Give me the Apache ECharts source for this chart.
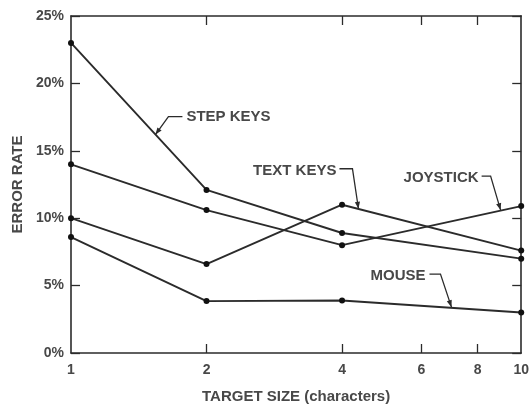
<!DOCTYPE html>
<html>
<head>
<meta charset="utf-8">
<style>
  html, body { margin: 0; padding: 0; background: #fff; }
  #chart { width: 532px; height: 409px; }
</style>
<script src="https://cdn.jsdelivr.net/npm/echarts@6/dist/echarts.min.js"></script>
</head>
<body>
<div id="chart"></div>
<script>
// target size (characters), log scale
var sizes = [1, 2, 4, 10];
var xTickValues = [2, 4, 6, 8];
var xLabelValues = [1, 2, 4, 6, 8, 10];

// error rate (%)
var stepKeys = [23, 12.1, 8.9, 7.0];
var textKeys = [10, 6.6, 11.0, 7.6];
var joystick = [14, 10.6, 8.0, 10.9];
var mouse    = [8.6, 3.85, 3.9, 3.0];

// callout labels: text and where the arrow tip touches the line (data coords)
var calloutText = ['STEP KEYS', 'TEXT KEYS', 'JOYSTICK', 'MOUSE'];
var calloutTip  = [[1.54, 16.2], [4.35, 10.7], [9.0, 10.6], [7.0, 3.4]];

var font = 'Liberation Sans, Arial, sans-serif';
var ink = '#2b2b2b';
var textInk = '#484848';

function pairs(vals) {
  var out = [];
  for (var i = 0; i < sizes.length; i++) out.push([sizes[i], vals[i]]);
  return out;
}

function lineSeries(name, vals) {
  return {
    name: name,
    type: 'line',
    data: pairs(vals),
    symbol: 'circle',
    symbolSize: 6,
    lineStyle: { color: ink, width: 1.9 },
    itemStyle: { color: '#111' },
    silent: true
  };
}

var chart = echarts.init(document.getElementById('chart'));

var xBase = {
  type: 'log',
  logBase: 10,
  min: 1,
  max: 10,
  splitLine: { show: false },
  axisLine: { show: true, onZero: false, lineStyle: { color: ink, width: 1.6 } },
  axisTick: { inside: true, length: 9, customValues: xTickValues, lineStyle: { color: ink, width: 1.3 } }
};
var yBase = {
  type: 'value',
  min: 0,
  max: 25,
  interval: 5,
  splitLine: { show: false },
  axisLine: { show: true, onZero: false, lineStyle: { color: ink, width: 1.6 } },
  axisTick: { inside: true, length: 9, lineStyle: { color: ink, width: 1.3 } }
};

chart.setOption({
  animation: false,
  grid: { left: 71, right: 5, top: 16, bottom: 49 },
  xAxis: [
    Object.assign({}, xBase, {
      position: 'bottom',
      name: 'TARGET SIZE (characters)',
      nameLocation: 'middle',
      nameGap: 36,
      nameTextStyle: { color: textInk, fontFamily: font, fontSize: 15, fontWeight: 'bold' },
      axisLabel: {
        customValues: xLabelValues,
        margin: 10,
        color: textInk, fontFamily: font, fontSize: 14, fontWeight: 'bold',
        formatter: function (v) { return String(Math.round(v)); }
      }
    }),
    Object.assign({}, xBase, { position: 'top', axisLabel: { show: false } })
  ],
  yAxis: [
    Object.assign({}, yBase, {
      position: 'left',
      name: 'ERROR RATE',
      nameLocation: 'middle',
      nameGap: 45,
      nameTextStyle: { color: textInk, fontFamily: font, fontSize: 15, fontWeight: 'bold' },
      axisLabel: {
        margin: 7,
        color: textInk, fontFamily: font, fontSize: 14, fontWeight: 'bold',
        formatter: '{value}%'
      }
    }),
    Object.assign({}, yBase, { position: 'right', axisLabel: { show: false } })
  ],
  series: [
    lineSeries('STEP KEYS', stepKeys),
    lineSeries('TEXT KEYS', textKeys),
    lineSeries('JOYSTICK', joystick),
    lineSeries('MOUSE', mouse)
  ]
});

// callout leaders: [bend offset, line start offset, text anchor offset, text align]
var leader = [
  [[13, -18], [27, -18], [31, -18], 'left'],
  [[-6, -40], [-19, -40], [-22, -38], 'right'],
  [[-10, -34], [-19, -34], [-22, -32], 'right'],
  [[-11, -33], [-22, -33], [-26, -31], 'right']
];

var els = [];
for (var i = 0; i < calloutText.length; i++) {
  var tip = chart.convertToPixel({ gridIndex: 0 }, calloutTip[i]);
  var L = leader[i];
  var bend = [tip[0] + L[0][0], tip[1] + L[0][1]];
  var start = [tip[0] + L[1][0], tip[1] + L[1][1]];
  els.push({
    type: 'polyline', silent: true,
    shape: { points: [start, bend, tip] },
    style: { stroke: ink, lineWidth: 1.3, fill: null }
  });
  // arrowhead along bend -> tip
  var ang = Math.atan2(tip[1] - bend[1], tip[0] - bend[0]);
  var len = 7, half = 2.6;
  var bx = tip[0] - len * Math.cos(ang), by = tip[1] - len * Math.sin(ang);
  els.push({
    type: 'polygon', silent: true,
    shape: { points: [tip,
      [bx + half * Math.sin(ang), by - half * Math.cos(ang)],
      [bx - half * Math.sin(ang), by + half * Math.cos(ang)]] },
    style: { fill: ink }
  });
  els.push({
    type: 'text', silent: true,
    x: tip[0] + L[2][0], y: tip[1] + L[2][1],
    style: {
      text: calloutText[i], fill: textInk,
      font: 'bold 15px ' + font,
      align: L[3], verticalAlign: 'middle'
    }
  });
}
chart.setOption({ graphic: els });
</script>
</body>
</html>
